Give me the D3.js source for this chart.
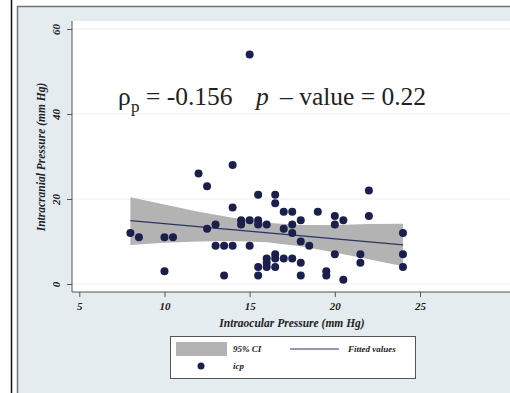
<!DOCTYPE html>
<html>
<head>
<meta charset="utf-8">
<script src="https://cdn.jsdelivr.net/npm/d3@7"></script>
<style>
  body { margin: 0; background: #fff; }
  svg { display: block; }
</style>
</head>
<body>
<svg id="chart" width="510" height="393"></svg>
<script>
// intraocular pressure (x) vs intracranial pressure (y), mm Hg
const iop = [8, 8.5, 10, 10.5, 10, 12, 12.5, 12.5, 13, 13, 13.5, 13.5, 14, 14, 14, 14.5, 14.5, 15, 15, 15,
  15.5, 15.5, 15.5, 15.5, 15.5, 16, 16, 16, 16, 16.5, 16.5, 16.5, 16.5, 16.5, 17, 17, 17, 17.5, 17.5, 17.5, 17.5,
  18, 18, 18, 18, 18.5, 19, 19.5, 19.5, 20, 20, 20, 20.5, 20.5, 21.5, 21.5, 22, 22, 24, 24, 24];
const icp = [12, 11, 11, 11, 3, 26, 23, 13, 14, 9, 9, 2, 28, 18, 9, 15, 14, 54, 15, 9,
  21, 15, 14, 4, 2, 14, 6, 5, 4, 21, 19, 7, 6, 4, 17, 13, 6, 17, 14, 12, 6,
  15, 10, 5, 2, 9, 17, 3, 2, 16, 14, 7, 15, 1, 7, 5, 22, 16, 12, 7, 4];

// 95% CI band and fitted line
const ciX = [8, 10, 12, 14, 16, 18, 20, 22, 24];
const ciLow = [9.2, 9.7, 10.0, 10.1, 9.8, 8.9, 7.4, 5.8, 4.2];
const ciHigh = [20.4, 18.7, 17.0, 15.6, 14.4, 13.9, 13.9, 14.1, 14.2];
const fitX = [8, 24];
const fitY = [14.9, 9.2];

const xTicks = [5, 10, 15, 20, 25];
const yTicks = [0, 20, 40, 60];

const svg = d3.select("#chart");
const navy = "#1b1f4b";
const serif = "'Liberation Serif', 'Times New Roman', serif";

// outer frame
svg.append("line").attr("x1", 11.5).attr("x2", 11.5).attr("y1", 0).attr("y2", 393)
  .attr("stroke", "#111").attr("stroke-width", 1.5);
svg.append("rect").attr("x", 17.5).attr("y", 6.5).attr("width", 520).attr("height", 400)
  .attr("fill", "#e5ecef").attr("stroke", "#6f7375").attr("stroke-width", 1.5);

const x = d3.scaleLinear().domain([5, 25]).range([79.3, 420]);
const y = d3.scaleLinear().domain([0, 60]).range([284, 29]);

// plot region
svg.append("rect").attr("x", 72).attr("y", 21).attr("width", 440).attr("height", 271).attr("fill", "#fff");

svg.append("g").selectAll("line").data(yTicks).join("line")
  .attr("x1", 72).attr("x2", 510).attr("y1", d => y(d)).attr("y2", d => y(d))
  .attr("stroke", "#eaeff1").attr("stroke-width", 1);

// CI band
const band = d3.area().x((d, i) => x(ciX[i])).y0((d, i) => y(ciLow[i])).y1((d, i) => y(ciHigh[i]));
svg.append("path").attr("d", band(ciX)).attr("fill", "#b3b3b3");

// fitted line
svg.append("line")
  .attr("x1", x(fitX[0])).attr("y1", y(fitY[0])).attr("x2", x(fitX[1])).attr("y2", y(fitY[1]))
  .attr("stroke", "#2a3466").attr("stroke-width", 1.2);

// points
svg.append("g").selectAll("circle").data(iop).join("circle")
  .attr("cx", d => x(d)).attr("cy", (d, i) => y(icp[i])).attr("r", 4)
  .attr("fill", navy);

// axes
const xAxis = svg.append("g").attr("transform", "translate(0,292)")
  .call(d3.axisBottom(x).tickValues(xTicks).tickSize(5).tickPadding(5).tickSizeOuter(0));
xAxis.select(".domain").attr("d", "M72,0H510").attr("stroke", "#555");
xAxis.selectAll(".tick line").attr("stroke", "#555");
xAxis.selectAll("text").attr("font-family", serif).attr("font-size", 11)
  .attr("font-weight", "bold").attr("font-style", "italic").attr("fill", "#222");

const yAxis = svg.append("g").attr("transform", "translate(72,0)")
  .call(d3.axisLeft(y).tickValues(yTicks).tickSize(5).tickSizeOuter(0));
yAxis.select(".domain").attr("d", "M0,21V292").attr("stroke", "#555");
yAxis.selectAll(".tick line").attr("stroke", "#555");
yAxis.selectAll("text")
  .attr("x", 0).attr("dy", 0)
  .attr("transform", "translate(-12,0) rotate(-90)")
  .attr("text-anchor", "middle")
  .attr("font-family", serif).attr("font-size", 11)
  .attr("font-weight", "bold").attr("font-style", "italic").attr("fill", "#222");

// axis titles
svg.append("text").attr("x", 292).attr("y", 327).attr("text-anchor", "middle")
  .attr("font-family", serif).attr("font-size", 11.5).attr("font-weight", "bold").attr("font-style", "italic")
  .attr("fill", "#222").text("Intraocular Pressure (mm Hg)");
svg.append("text").attr("transform", "translate(45,157) rotate(-90)").attr("text-anchor", "middle")
  .attr("font-family", serif).attr("font-size", 11.5).attr("font-weight", "bold").attr("font-style", "italic")
  .attr("fill", "#222").text("Intracranial Pressure (mm Hg)");

// correlation annotation
const ann = svg.append("text").attr("y", 105)
  .attr("font-family", serif).attr("font-size", 25.5).attr("fill", "#222");
ann.append("tspan").attr("x", 118).text("ρ");
ann.append("tspan").attr("x", 131).attr("dy", 7).attr("font-size", 17).text("p");
ann.append("tspan").attr("x", 146).attr("dy", -7).text("= -0.156");
ann.append("tspan").attr("x", 256).attr("font-style", "italic").text("p");
ann.append("tspan").attr("x", 280).text("– value = 0.22");

// legend
const leg = svg.append("g");
leg.append("rect").attr("x", 170.5).attr("y", 336.5).attr("width", 245).attr("height", 42)
  .attr("fill", "#fff").attr("stroke", "#555");
leg.append("rect").attr("x", 176).attr("y", 342).attr("width", 51).attr("height", 14).attr("fill", "#b3b3b3");
leg.append("line").attr("x1", 290).attr("x2", 339).attr("y1", 349).attr("y2", 349)
  .attr("stroke", "#2a3466").attr("stroke-width", 1.2);
leg.append("circle").attr("cx", 201).attr("cy", 366).attr("r", 3.5).attr("fill", navy);
const legText = [["95% CI", 233, 352], ["Fitted values", 348, 352], ["icp", 233, 369]];
leg.selectAll("text.l").data(legText).join("text").attr("class", "l")
  .attr("x", d => d[1]).attr("y", d => d[2])
  .attr("font-family", serif).attr("font-size", 9).attr("font-weight", "bold").attr("font-style", "italic")
  .attr("fill", "#222").text(d => d[0]);
</script>
</body>
</html>
